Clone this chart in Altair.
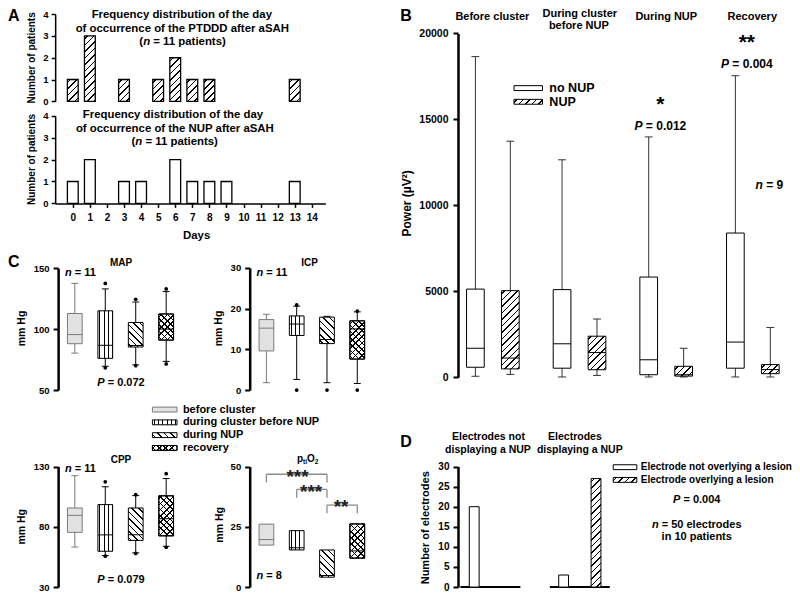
import math
import altair as alt
import pandas as pd

W, H = 784, 585
FONT = "Liberation Sans"
SX, SY = 0.9825, 0.977


def X(r):
    return round((r - 2.0) * SX, 2)


def Y(r):
    return round((r - 4.0) * SY, 2)


# ---------------- data ----------------
days = list(range(15))
ptddd_patients = [1, 3, 0, 1, 0, 1, 2, 1, 1, 0, 0, 0, 0, 1, 0]
nup_patients = [1, 2, 0, 1, 1, 0, 2, 1, 1, 1, 0, 0, 0, 1, 0]
patient_ticks = [0, 1, 2, 3, 4]

b_groups = ["Before cluster", "During cluster before NUP", "During NUP", "Recovery"]
b_series = ["no NUP", "NUP"]
b_low = [60, 170, 20, 110, 20, 20, 20, 20]
b_q1 = [585, 490, 530, 440, 150, 70, 530, 210]
b_median = [1690, 1120, 1950, 1440, 1020, 150, 2050, 450]
b_q3 = [5130, 5040, 5100, 2390, 5830, 640, 8390, 740]
b_high = [18650, 13730, 12650, 3390, 13980, 1690, 17540, 2900]
power_ticks = [0, 5000, 10000, 15000, 20000]

conditions = ["before cluster", "during cluster before NUP", "during NUP", "recovery"]
map_low = [80.3, 69.5, 70.6, 73.5]
map_q1 = [88.0, 76.0, 85.3, 91.0]
map_median = [95.5, 86.7, 86.5, 100.0]
map_q3 = [112.8, 115.0, 105.4, 112.4]
map_high = [137.5, 133.0, 122.2, 130.8]
map_out_cond = [1, 1, 2, 2, 3, 3]
map_out_val = [137.5, 68.2, 124.4, 70.0, 133.0, 71.4]
map_ticks = [50, 100, 150]

icp_low = [1.8, 2.6, 1.8, 1.6]
icp_q1 = [9.6, 13.4, 11.4, 7.6]
icp_median = [15.2, 16.2, 12.4, 15.0]
icp_q3 = [17.3, 18.2, 17.9, 17.0]
icp_high = [18.6, 20.6, 18.1, 19.2]
icp_out_cond = [1, 1, 2, 3, 3]
icp_out_val = [20.9, 0.0, 0.0, 19.4, 0.0]
icp_ticks = [0, 10, 20, 30]

cpp_low = [63.2, 56.2, 58.4, 63.8]
cpp_q1 = [75.4, 59.7, 68.7, 72.5]
cpp_median = [89.5, 73.3, 73.3, 86.7]
cpp_q3 = [95.6, 98.4, 95.6, 105.7]
cpp_high = [122.4, 113.2, 105.9, 120.0]
cpp_out_cond = [1, 1, 2, 2, 3, 3]
cpp_out_val = [117.3, 55.6, 106.6, 57.9, 124.0, 63.0]
cpp_ticks = [30, 80, 130]

po2_q1 = [17.4, 15.4, 4.1, 12.0]
po2_median = [19.7, 16.3, 4.8, 15.0]
po2_q3 = [26.1, 23.4, 15.4, 26.2]
po2_ticks = [0, 25, 50]
po2_pairs = [(0, 2), (1, 2), (2, 3)]
po2_bracket_top = [46.8, 40.5, 34.0]
po2_bracket_leg = [43.4, 37.0, 30.6]

d_groups = ["Electrodes not displaying a NUP", "Electrodes displaying a NUP"]
d_series = ["Electrode not overlying a lesion", "Electrode overlying a lesion"]
d_electrodes = [20, 0, 3, 27]
electrode_ticks = [0, 5, 10, 15, 20, 25, 30]

# ---------------- hatch fills (linear gradients with hard stops) ----------------
R2 = math.sqrt(2)
CLEAR = "rgba(255,255,255,0)"


def _stops(L, period, line, fg, bg):
    st = [{"offset": 0.0, "color": bg}]
    i = 0
    while True:
        a = (i * period + (period - line) / 2.0) / L
        if a >= 1.0:
            break
        b = min(a + line / L, 1.0)
        st += [{"offset": round(a, 4), "color": bg}, {"offset": round(a, 4), "color": fg},
               {"offset": round(b, 4), "color": fg}, {"offset": round(b, 4), "color": bg}]
        i += 1
    st.append({"offset": 1.0, "color": bg})
    return st


def hatch(kind, w, h, bg="#ffffff", fg="#000000", spacing=4.6, line=1.1):
    w = max(float(w), 1.0)
    h = max(float(h), 1.0)
    if kind == "vert":
        return {"gradient": "linear", "x1": 0, "y1": 0, "x2": 1, "y2": 0,
                "stops": _stops(w, spacing, line, fg, bg)}
    L = w + h
    k = L / (w * w + h * h)
    if kind == "fwd":
        x1, y1, x2, y2 = 0, 0, k * w, k * h
    else:
        x1, y1, x2, y2 = 0, 1, k * w, 1 - k * h
    return {"gradient": "linear", "x1": x1, "y1": y1, "x2": round(x2, 5), "y2": round(y2, 5),
            "stops": _stops(L, spacing * R2, line * R2, fg, bg)}


def paint(make, kind, w, h, stroke="#000000"):
    if kind == "white":
        return [make("#ffffff", stroke)]
    if kind == "gray":
        return [make("#e2e2e2", "#7a7a7a")]
    if kind in ("fwd", "back"):
        return [make(hatch(kind, w, h), stroke)]
    if kind == "vert":
        return [make(hatch("vert", w, h, spacing=4.2, line=1.0), stroke)]
    if kind == "cross":
        return [make(hatch("fwd", w, h, spacing=4.4), stroke),
                make(hatch("back", w, h, bg=CLEAR, spacing=4.4), stroke)]
    raise ValueError(kind)


def yaxis(xr, ticks, size, width=2.5, tick=5, pad=4):
    return alt.Axis(orient="left", offset=-X(xr), values=ticks, format="d", title=None,
                    labelFontSize=size, labelPadding=pad, domainWidth=width,
                    tickWidth=min(width, 2), tickSize=tick, labelOverlap=False, grid=False,
                    domainColor="black", tickColor="black", labelColor="black",
                    labelFont=FONT, labelFontWeight="bold")


# ---------------- Panel A ----------------
def panel_a(counts, kind, ybot, ytop, with_x_axis):
    df = pd.DataFrame({"day": days, "patients": counts})
    xs = alt.Scale(domain=[-0.74, 14.5], range=[X(50), X(325)], nice=False, zero=False)
    ys = alt.Scale(domain=[0, 4], range=[Y(ybot), Y(ytop)], nice=False, zero=False)
    ppu = (Y(ybot) - Y(ytop)) / 4.0
    bw = 11 * SX
    xaxis = None
    if with_x_axis:
        xaxis = alt.Axis(orient="bottom", offset=Y(ybot) - H, values=days, format="d", title=None,
                         labelFontSize=10, labelPadding=5, domainWidth=1.5, tickWidth=1.5,
                         tickSize=4, labelOverlap=False, grid=False, labelFont=FONT,
                         labelFontWeight="bold", labelColor="black", domainColor="black",
                         tickColor="black")
    yax = yaxis(50, patient_ticks, 9.5, width=1.5, tick=4, pad=3)
    layers = []
    for n in sorted({c for c in counts if c > 0}):
        def make(fill, stroke, n=n):
            return alt.Chart(df).transform_filter(alt.datum.patients == n).mark_bar(
                size=bw, fill=fill, stroke=stroke, strokeWidth=1.3, opacity=1).encode(
                x=alt.X("day:Q", scale=xs, axis=xaxis),
                y=alt.Y("patients:Q", scale=ys, stack=None, axis=yax))
        layers += paint(make, kind, bw, n * ppu)
    return alt.layer(*layers)


# ---------------- Panel B ----------------
def panel_b():
    rows = []
    for gi, g in enumerate(b_groups):
        for si, s in enumerate(b_series):
            i = 2 * gi + si
            rows.append(dict(group=g, series=s, low=b_low[i], q1=b_q1[i], median=b_median[i],
                             q3=b_q3[i], high=b_high[i]))
    df = pd.DataFrame(rows)
    xs = alt.Scale(domain=b_groups, range=[X(451.4), X(804.2)], paddingInner=0, paddingOuter=0)
    xo = alt.Scale(domain=b_series, paddingInner=0, paddingOuter=0.24)
    ys = alt.Scale(domain=[0, 20000], range=[Y(382), Y(30)], nice=False, zero=False)
    yax = yaxis(460, power_ticks, 10.5, width=2.5, tick=5, pad=5)

    def py(v):
        return Y(382) + v / 20000.0 * (Y(30) - Y(382))

    bw = 18 * SX

    def ex():
        return dict(x=alt.X("group:N", scale=xs, axis=None), xOffset=alt.XOffset("series:N", scale=xo))

    def Yf(f):
        return alt.Y(f"{f}:Q", scale=ys, axis=yax)

    base = alt.Chart(df)
    layers = [base.mark_rule(color="#333333", strokeWidth=1, opacity=1).encode(
        **ex(), y=Yf("low"), y2=alt.Y2("high"))]
    for f in ("low", "high"):
        layers.append(base.mark_tick(orient="horizontal", size=8 * SX, thickness=1, color="#333333",
                                     opacity=1).encode(**ex(), y=Yf(f)))
    for r in rows:
        kind = "white" if r["series"] == "no NUP" else "fwd"
        sub = pd.DataFrame([r])

        def make(fill, stroke, sub=sub):
            return alt.Chart(sub).mark_bar(width=bw, fill=fill, stroke=stroke, strokeWidth=1,
                                           opacity=1).encode(**ex(), y=Yf("q1"), y2=alt.Y2("q3"))
        layers += paint(make, kind, bw, abs(py(r["q3"]) - py(r["q1"])))
    layers.append(base.mark_tick(orient="horizontal", size=bw, thickness=1, color="black",
                                 opacity=1).encode(**ex(), y=Yf("median")))
    return alt.layer(*layers)


# ---------------- Panel C ----------------
C_KINDS = ["gray", "vert", "back", "cross"]


def panel_c(low, q1, med, q3, high, out_c, out_v, dom, ticks, xr0, xr1, ybot, ytop, axis_xr,
            brackets=False):
    df = pd.DataFrame({"cond": conditions, "q1": q1, "median": med, "q3": q3})
    whiskers = low is not None
    if whiskers:
        df["low"] = low
        df["high"] = high
    xs = alt.Scale(domain=conditions, range=[X(xr0), X(xr1)], paddingInner=0, paddingOuter=0)
    ys = alt.Scale(domain=dom, range=[Y(ybot), Y(ytop)], nice=False, zero=False)
    yax = yaxis(axis_xr, ticks, 9.5, width=2.5, tick=5, pad=4)

    def py(v):
        return Y(ybot) + (v - dom[0]) / (dom[1] - dom[0]) * (Y(ytop) - Y(ybot))

    bw = 15 * SX
    xe = alt.X("cond:N", scale=xs, axis=None)

    def Yf(f):
        return alt.Y(f"{f}:Q", scale=ys, axis=yax)

    col = alt.condition(alt.datum.cond == conditions[0], alt.value("#7a7a7a"), alt.value("#000000"))
    base = alt.Chart(df)
    layers = []
    if whiskers:
        layers.append(base.mark_rule(strokeWidth=1, opacity=1).encode(
            x=xe, y=Yf("low"), y2=alt.Y2("high"), color=col))
        for f in ("low", "high"):
            layers.append(base.mark_tick(orient="horizontal", size=7 * SX, thickness=1, opacity=1).encode(
                x=xe, y=Yf(f), color=col))
    for i in range(len(conditions)):
        sub = df.iloc[[i]]

        def make(fill, stroke, sub=sub):
            return alt.Chart(sub).mark_bar(width=bw, fill=fill, stroke=stroke, strokeWidth=1,
                                           opacity=1).encode(x=xe, y=Yf("q1"), y2=alt.Y2("q3"))
        layers += paint(make, C_KINDS[i], bw, abs(py(q3[i]) - py(q1[i])))
    layers.append(base.mark_tick(orient="horizontal", size=bw, thickness=1, opacity=1).encode(
        x=xe, y=Yf("median"), color=col))
    if out_c:
        od = pd.DataFrame({"cond": [conditions[i] for i in out_c], "value": out_v})
        layers.append(alt.Chart(od).mark_circle(size=14, color="black", opacity=1).encode(
            x=xe, y=Yf("value")))
    if brackets:
        br = pd.DataFrame({"a": [conditions[p[0]] for p in po2_pairs],
                           "b": [conditions[p[1]] for p in po2_pairs],
                           "top": po2_bracket_top, "leg": po2_bracket_leg})
        layers.append(alt.Chart(br).mark_rule(color="#8c8c8c", strokeWidth=1.3, opacity=1).encode(
            x=alt.X("a:N", scale=xs, axis=None), x2=alt.X2("b"), y=Yf("top")))
        for end in ("a", "b"):
            layers.append(alt.Chart(br).mark_rule(color="#8c8c8c", strokeWidth=1.3, opacity=1).encode(
                x=alt.X(f"{end}:N", scale=xs, axis=None), y=Yf("top"), y2=alt.Y2("leg")))
    return alt.layer(*layers)


# ---------------- Panel D ----------------
def panel_d():
    rows = []
    for gi, g in enumerate(d_groups):
        for si, s in enumerate(d_series):
            rows.append(dict(group=g, series=s, electrodes=d_electrodes[2 * gi + si]))
    xs = alt.Scale(domain=d_groups, range=[X(447.5), X(629.5)], paddingInner=0, paddingOuter=0)
    xo = alt.Scale(domain=d_series, paddingInner=0, paddingOuter=0.38)
    ys = alt.Scale(domain=[0, 30], range=[Y(596.7), Y(473.3)], nice=False, zero=False)
    yax = yaxis(460, electrode_ticks, 10, width=2.5, tick=5, pad=4)

    def py(v):
        return Y(596.7) + v / 30.0 * (Y(473.3) - Y(596.7))

    bw = 10 * SX
    layers = [alt.Chart(pd.DataFrame({"group": d_groups})).mark_tick(
        orient="horizontal", size=61 * SX, thickness=2, color="black", opacity=1).encode(
        x=alt.X("group:N", scale=xs, axis=None),
        y=alt.YDatum(0, type="quantitative", scale=ys, axis=yax))]
    for r in rows:
        if r["electrodes"] <= 0:
            continue
        kind = "white" if r["series"] == d_series[0] else "fwd"
        sub = pd.DataFrame([r])

        def make(fill, stroke, sub=sub):
            return alt.Chart(sub).mark_bar(width=bw, fill=fill, stroke=stroke, strokeWidth=1,
                                           opacity=1).encode(
                x=alt.X("group:N", scale=xs, axis=None),
                xOffset=alt.XOffset("series:N", scale=xo),
                y=alt.Y("electrodes:Q", scale=ys, axis=yax, stack=None))
        layers += paint(make, kind, bw, abs(py(r["electrodes"]) - py(0)))
    return alt.layer(*layers)


# ---------------- manual legends ----------------
def legend(labels, kinds, first_center, step, sw0, sw1, tx, size, bwr=5.0):
    p = 1 - bwr / step
    start = first_center - bwr / 2
    stop = start + step * (len(labels) - p)
    ys = alt.Scale(domain=labels, range=[Y(start), Y(stop)], paddingInner=p, paddingOuter=0)
    w = (sw1 - sw0) * SX
    h = bwr * SY
    layers = []
    for lab, kind in zip(labels, kinds):
        sub = pd.DataFrame({"label": [lab]})

        def make(fill, stroke, sub=sub):
            return alt.Chart(sub).mark_rect(fill=fill, stroke=stroke, strokeWidth=1, opacity=1).encode(
                x=alt.value(X(sw0)), x2=alt.value(X(sw1)), y=alt.Y("label:N", scale=ys, axis=None))
        layers += paint(make, kind, w, h)
    layers.append(alt.Chart(pd.DataFrame({"label": labels})).mark_text(
        align="left", baseline="middle", font=FONT, fontWeight="bold", fontSize=size,
        color="black").encode(x=alt.value(X(tx)), y=alt.Y("label:N", scale=ys, axis=None),
                              text="label:N"))
    return alt.layer(*layers)


# ---------------- text annotations ----------------
AW = {' ': 278, '!': 333, '(': 333, ')': 333, '*': 389, '.': 278, ',': 278, '-': 333, '=': 584,
      'A': 722, 'B': 722, 'C': 722, 'D': 722, 'E': 667, 'F': 611, 'G': 778, 'H': 722, 'I': 278,
      'L': 611, 'M': 833, 'N': 722, 'O': 778, 'P': 667, 'R': 722, 'S': 667, 'T': 611, 'U': 722,
      'V': 667, 'a': 556, 'b': 611, 'c': 556, 'd': 611, 'e': 556, 'f': 333, 'g': 611, 'h': 611,
      'i': 278, 'j': 278, 'k': 556, 'l': 278, 'm': 889, 'n': 611, 'o': 611, 'p': 611, 'q': 611,
      'r': 389, 's': 556, 't': 333, 'u': 611, 'v': 556, 'w': 778, 'x': 556, 'y': 556, 'z': 500}
TEXT_ROWS = []


def tw(s, size):
    return sum(AW.get(ch, 556) for ch in s) * size / 1000.0


def txt(segments, xr, yr, size, align="center", color="black", dy=0.0):
    if isinstance(segments, str):
        segments = [(segments, False)]
    total = sum(tw(t, size) for t, _ in segments)
    cur = X(xr) - total / 2 if align == "center" else X(xr)
    for t, it in segments:
        lead = len(t) - len(t.lstrip(" "))
        body = t.strip(" ")
        if body:
            TEXT_ROWS.append(dict(t=body, x=round(cur + tw(t[:lead], size), 2), y=round(Y(yr) + dy, 2),
                                  s=size, it=bool(it), ang=0, c=color))
        cur += tw(t, size)


def vtxt(t, xr, yr, size):
    TEXT_ROWS.append(dict(t=t, x=X(xr), y=Y(yr), s=size, it=False, ang=270, c="black"))


def stars(t, xr, yr, size, color="black"):
    txt(t, xr, yr, size, color=color, dy=0.28 * size)


def seq(parts, xr, yr):
    total = sum(tw(t, s) for t, s, _ in parts)
    cur = X(xr) - total / 2
    for t, s, dy in parts:
        TEXT_ROWS.append(dict(t=t, x=round(cur, 2), y=round(Y(yr) + dy, 2), s=s, it=False, ang=0, c="black"))
        cur += tw(t, s)


I = True
N = False
# panel letters
txt("A", 8, 12.5, 16)
txt("B", 407, 12.5, 16)
txt("C", 8, 264, 16)
txt("D", 407, 448, 16)
# panel A
txt("Frequency distribution of the day", 179, 11.5, 11.4)
txt("of occurrence of the PTDDD after aSAH", 179.5, 25, 11.4)
txt([("(", N), ("n", I), (" = 11 patients)", N)], 180, 38.5, 11.4)
txt("Frequency distribution of the day", 170, 114, 11.4)
txt("of occurrence of the NUP after aSAH", 172, 127.5, 11.4)
txt([("(", N), ("n", I), (" = 11 patients)", N)], 172, 141, 11.4)
txt("Days", 194, 237.5, 11.4)
vtxt("Number of patients", 26, 55, 10)
vtxt("Number of patients", 26, 159, 10)
# panel B
txt("Before cluster", 495, 13, 11)
txt("During cluster", 584, 10.5, 11)
txt("before NUP", 583, 22.5, 11)
txt("During NUP", 672, 13, 11)
txt("Recovery", 759.5, 13, 11)
stars("**", 754, 34, 21)
txt([("P", I), (" = 0.004", N)], 754, 61, 12)
stars("*", 666, 97, 21)
txt([("P", I), (" = 0.012", N)], 666, 124.5, 12)
txt([("n", I), (" = 9", N)], 777, 185, 12)
vtxt("Power (\u00b5V\u00b2)", 408, 204, 12)
# panel C
txt("MAP", 117, 265.5, 10)
txt("ICP", 309, 265.5, 10)
txt("CPP", 117, 467, 10)
seq([("p", 10, 0), ("ti", 6.5, 3), ("O", 10, 0), ("2", 6.5, 3)], 307, 466)
txt([("n", I), (" = 11", N)], 60, 275, 11, align="left")
txt([("n", I), (" = 11", N)], 255, 275, 11, align="left")
txt([("n", I), (" = 11", N)], 60, 476, 11, align="left")
txt([("n", I), (" = 8", N)], 255, 585, 11, align="left")
txt([("P", I), (" = 0.072", N)], 117, 388, 11)
txt([("P", I), (" = 0.079", N)], 117, 589.5, 11)
vtxt("mm Hg", 16, 332, 10.5)
vtxt("mm Hg", 217, 332, 10.5)
vtxt("mm Hg", 16, 535, 10.5)
vtxt("mm Hg", 218, 533, 10.5)
stars("***", 296.7, 479, 19, color="#222222")
stars("***", 310.5, 494, 19, color="#222222")
stars("**", 341, 509.5, 19, color="#222222")
# panel D
txt("Electrodes not", 491, 443, 10.5)
txt("displaying a NUP", 490.5, 456, 10.5)
txt("Electrodes", 579, 443, 10.5)
txt("displaying a NUP", 584, 456, 10.5)
txt([("P", I), (" = 0.004", N)], 703, 508, 11)
txt([("n", I), (" = 50 electrodes", N)], 703, 533, 11)
txt("in 10 patients", 703, 545, 11)
vtxt("Number of electrodes", 427, 536, 11)


def text_layers():
    df = pd.DataFrame(TEXT_ROWS)
    out = []
    for (it, ang), g in df.groupby(["it", "ang"]):
        it = bool(it)
        ang = int(ang)
        out.append(alt.Chart(g.drop(columns=["it", "ang"])).mark_text(
            align="left" if ang == 0 else "center", baseline="middle", font=FONT,
            fontWeight="bold", fontStyle="italic" if it else "normal", angle=ang).encode(
            x=alt.X("x:Q", scale=None), y=alt.Y("y:Q", scale=None), text="t:N",
            size=alt.Size("s:Q", scale=None, legend=None),
            color=alt.Color("c:N", scale=None, legend=None)))
    return out


# ---------------- assemble ----------------
layers = [
    panel_a(ptddd_patients, "fwd", 99.5, 10.3, False),
    panel_a(nup_patients, "white", 204, 114.3, True),
    panel_b(),
    panel_c(map_low, map_q1, map_median, map_q3, map_high, map_out_cond, map_out_val,
            [50, 150], map_ticks, 54.5, 178.5, 395, 270.3, 53),
    panel_c(icp_low, icp_q1, icp_median, icp_q3, icp_high, icp_out_cond, icp_out_val,
            [0, 30], icp_ticks, 249.6, 372.9, 395, 270, 248),
    panel_c(cpp_low, cpp_q1, cpp_median, cpp_q3, cpp_high, cpp_out_cond, cpp_out_val,
            [30, 130], cpp_ticks, 54.5, 178.5, 596.7, 473.3, 53),
    panel_c(None, po2_q1, po2_median, po2_q3, None, [], [],
            [0, 50], po2_ticks, 249.6, 372.9, 596.7, 473.3, 248, brackets=True),
    panel_d(),
    legend(b_series, ["white", "fwd"], 86, 14, 517, 546, 553, 12.5),
    legend(conditions, C_KINDS, 415, 13.1, 149, 174, 180, 11),
    legend(d_series, ["white", "fwd"], 474, 13, 618, 642, 646, 10),
] + text_layers()

chart = alt.layer(*layers).resolve_scale(
    x="independent", y="independent", xOffset="independent"
).properties(
    width=W, height=H, padding=0, background="white",
    autosize=alt.AutoSizeParams(type="none"),
).configure_view(stroke=None).configure_axis(
    labelFont=FONT, labelFontWeight="bold", labelColor="black", domainColor="black",
    tickColor="black", grid=False,
).configure_text(font=FONT, fontWeight="bold", color="black")

chart.save("out.html", embed_options={"renderer": "svg", "actions": False})
